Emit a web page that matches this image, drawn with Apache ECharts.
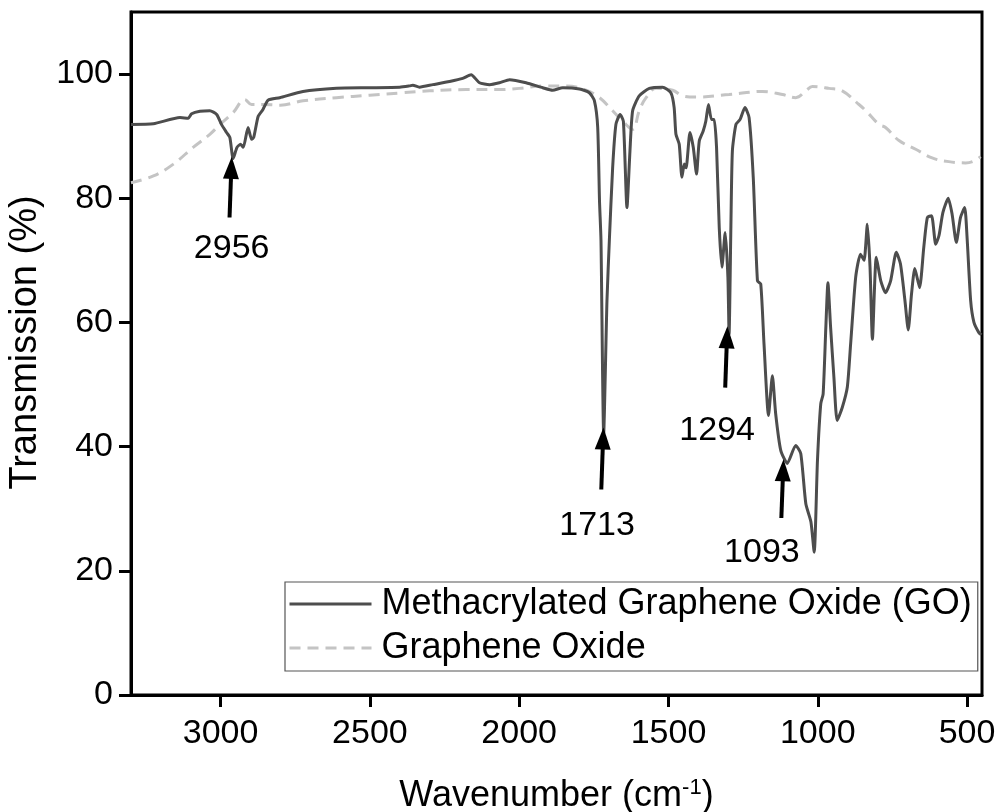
<!DOCTYPE html>
<html>
<head>
<meta charset="utf-8">
<script src="https://cdn.jsdelivr.net/npm/echarts@6/dist/echarts.min.js"></script>
<style>html,body{margin:0;padding:0;background:#fff}#c{width:1000px;height:812px}</style>
</head>
<body>
<div id="c"></div>
<script>
// Methacrylated GO spectrum: wavenumber (cm-1) and transmission (%)
const mgoWave = [3300,3225,3136,3108,3097,3069,3036,3013,2997,2980,2969,2958,2945,2933,2924,2908,2896,2889,2874,2858,2841,2802,2724,2612,2501,2400,2367,2356,2334,2289,2233,2189,2161,2133,2099,2066,2032,1977,1921,1888,1854,1798,1765,1748,1737,1731,1726,1717,1706,1698,1687,1676,1662,1651,1639,1629,1620,1598,1564,1520,1492,1481,1475,1464,1455,1447,1441,1428,1417,1406,1397,1384,1375,1366,1356,1347,1339,1330,1321,1310,1301,1297,1291,1286,1274,1260,1244,1230,1216,1202,1191,1180,1165,1152,1141,1124,1102,1074,1057,1040,1023,1012,1001,990,982,973,966,957,946,935,918,901,890,873,857,845,834,825,817,804,789,773,756,737,723,708,697,686,675,659,645,633,619,605,594,581,563,550,536,522,508,500,488,477,461,452];
const mgoTrans = [91.9,92.0,93.0,92.9,93.6,94.0,94.1,93.5,91.9,90.6,89.8,86.4,88.2,88.7,88.2,91.4,89.5,89.8,93.2,94.3,95.8,96.2,97.2,97.7,97.8,97.9,98.1,98.2,97.9,98.3,98.8,99.3,99.9,98.6,98.3,98.6,99.1,98.6,97.8,97.4,97.8,97.6,97.0,95.7,91.4,79.6,73.2,42.1,63.5,73.2,84.9,91.9,93.5,92.4,78.5,87.6,94.1,96.5,97.7,97.9,97.0,94.6,90.3,88.7,83.4,85.5,84.9,90.6,88.2,83.9,89.2,90.8,92.4,95.1,92.7,92.7,88.2,75.3,68.9,74.5,67.3,58.1,75.3,87.6,91.9,92.7,94.6,93.0,83.3,66.7,66.2,56.5,45.0,51.4,45.3,39.4,37.3,40.2,38.9,30.8,27.9,23.0,37.8,46.9,48.5,59.2,66.4,59.2,51.2,44.2,46.3,49.6,56.5,67.3,71.0,70.0,75.8,68.9,57.3,70.5,66.7,64.8,66.7,71.3,69.4,63.5,58.8,64.6,68.7,65.6,72.1,76.9,77.2,72.6,74.0,77.7,80.0,77.4,72.9,76.9,78.5,73.7,63.5,60.0,58.4,58.0];

// Graphene oxide spectrum
const goWave = [3300,3225,3158,3092,3036,3002,2958,2919,2896,2858,2800,2724,2612,2501,2389,2300,2177,2066,2000,1921,1843,1776,1731,1687,1653,1620,1598,1575,1542,1486,1453,1408,1297,1185,1118,1074,1040,1018,962,918,862,839,795,773,728,672,617,561,505,472,455];
const goTrans = [82.5,83.6,85.5,88.2,90.3,91.9,93.8,95.9,95.1,95.1,95.0,95.7,96.2,96.6,97.0,97.3,97.5,97.5,97.7,98.1,98.1,97.4,96.2,94.1,92.4,91.1,94.1,96.2,97.7,97.4,96.5,96.3,96.7,97.2,96.7,96.2,97.3,98.0,97.7,97.3,95.1,94.1,91.9,91.4,89.3,87.9,86.5,85.9,85.7,86.1,86.7];

// Peak annotations
const annLabels = ['2956','1713','1294','1093'];
const annArrowX = [2964,1719,1304,1116];
const annTailX  = [2970,1725,1310,1122];
const annTipY   = [84.9,41.3,57.6,36.2];
const annTailY  = [76.9,33.1,49.5,28.5];
const annLabelX = [2963,1739,1337,1187];
const annLabelY = [71.9,27.3,42.6,23.0];

const xTicks = [500,1000,1500,2000,2500,3000];
const yTicks = [0,20,40,60,80,100];

const seriesNames = ['Methacrylated Graphene Oxide (GO)','Graphene Oxide'];

const FONT = '"Liberation Sans", Arial, Helvetica, sans-serif';
const chart = echarts.init(document.getElementById('c'));

const mgoData = mgoWave.map((w,i)=>[w,mgoTrans[i]]);
const goData = goWave.map((w,i)=>[w,goTrans[i]]);
const arrowLines = annLabels.map((l,i)=>[
  {coord:[annTailX[i], annTailY[i]]},
  {coord:[annArrowX[i], annTipY[i]]}
]);
const labelPts = annLabels.map((l,i)=>({name:l, value:[annLabelX[i], annLabelY[i]]}));

chart.setOption({
  animation:false,
  backgroundColor:'#fff',
  textStyle:{fontFamily:FONT},
  grid:{left:131,right:18,top:12,bottom:117,show:true,borderColor:'#000',borderWidth:3,backgroundColor:'transparent',containLabel:false,outerBoundsMode:'none'},
  legend:{
    data:seriesNames,
    orient:'vertical',
    left:285, top:582,
    itemWidth:82, itemHeight:18, itemGap:8,
    borderColor:'#555', borderWidth:1.2,
    padding:[4,6,5,3],
    itemStyle:{opacity:0},
    lineStyle:{width:3},
    textStyle:{fontSize:36,color:'#000',fontFamily:FONT,padding:[0,0,0,5]},
    selectedMode:false
  },
  xAxis:{
    type:'value', inverse:true, min:450, max:3300,
    name:'Wavenumber (cm{sup|-1})', nameLocation:'middle', nameGap:82,
    nameTextStyle:{fontSize:36,color:'#000',fontFamily:FONT,
      rich:{sup:{fontSize:22,color:'#000',fontFamily:FONT,padding:[0,0,16,0]}}},
    axisLine:{onZero:false,lineStyle:{color:'#000',width:3}},
    axisTick:{show:true,inside:false,length:12,lineStyle:{color:'#000',width:3},customValues:xTicks},
    axisLabel:{fontSize:34,color:'#000',margin:22,fontFamily:FONT,customValues:xTicks,formatter:v=>String(v)},
    splitLine:{show:false}
  },
  yAxis:{
    type:'value', min:0, max:110,
    name:'Transmission (%)', nameLocation:'middle', nameGap:86,
    nameTextStyle:{fontSize:38,color:'#000',fontFamily:FONT,padding:[0,0,0,22]},
    axisLine:{onZero:false,lineStyle:{color:'#000',width:3}},
    axisTick:{show:true,inside:false,length:12,lineStyle:{color:'#000',width:3},customValues:yTicks},
    axisLabel:{fontSize:34,color:'#000',margin:18,fontFamily:FONT,customValues:yTicks,formatter:v=>String(v)},
    splitLine:{show:false}
  },
  series:[
    {
      name:seriesNames[0], type:'line', data:mgoData, symbol:'none', smooth:0.2, z:3,
      lineStyle:{color:'#4d4d4d',width:3},
      itemStyle:{color:'#4d4d4d'},
      markLine:{
        silent:true, symbol:['none','triangle'], symbolSize:[16,22], symbolOffset:[0,0],
        label:{show:false},
        lineStyle:{color:'#000',width:4,type:'solid'},
        emphasis:{disabled:true},
        data:arrowLines
      }
    },
    {
      name:seriesNames[1], type:'line', data:goData, symbol:'none', smooth:0.4, z:2,
      lineStyle:{color:'#c4c4c4',width:3,type:[11,7]},
      itemStyle:{color:'#c4c4c4'}
    },
    {
      name:'labels', type:'scatter', data:labelPts, symbolSize:0, z:4,
      itemStyle:{color:'#000',opacity:1}, silent:true,
      label:{show:true, position:'inside', formatter:p=>p.name, fontSize:34, color:'#000', opacity:1, fontFamily:FONT, textBorderWidth:0}
    }
  ]
});
</script>
</body>
</html>
